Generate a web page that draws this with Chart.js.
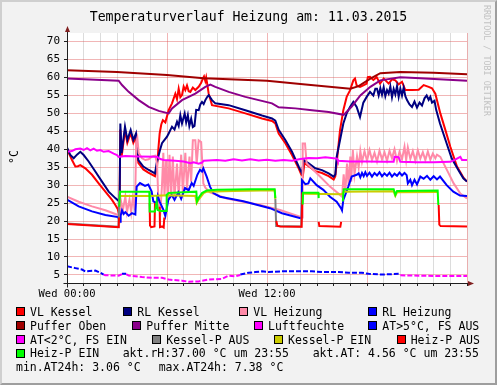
<!DOCTYPE html>
<html>
<head>
<meta charset="utf-8">
<script src="https://cdn.jsdelivr.net/npm/chart.js@4.4.1/dist/chart.umd.min.js"></script>
<style>
body { margin: 0; background: #fff; }
#wrap { position: relative; width: 497px; height: 385px; background: #f2f2f2; font-family: "DejaVu Sans Mono", monospace; color: #000; overflow: hidden; }
#frame { position: absolute; left: 0; top: 0; width: 497px; height: 385px; box-sizing: border-box; border: 2px solid; border-color: #cfcfcf #9e9e9e #9e9e9e #cfcfcf; pointer-events: none; }
canvas { position: absolute; left: 0; top: 0; }
#title { position: absolute; left: 0; top: 8px; width: 497px; text-align: center; font-size: 13.2px; line-height: 17px; white-space: pre; }
#unit { position: absolute; left: 4px; top: 150px; width: 20px; height: 14px; line-height: 14px; text-align: center; font-size: 11.5px; transform: rotate(-90deg); }
#wm { position: absolute; left: 482px; top: 5px; writing-mode: vertical-rl; font-size: 8.4px; color: #c2c2c2; white-space: pre; }
.t { position: absolute; white-space: pre; font-size: 11.5px; line-height: 14px; height: 14px; }
.sw { position: absolute; width: 9px; height: 9px; box-sizing: border-box; border: 1px solid #000; }
</style>
</head>
<body>
<div id="wrap">
  <canvas id="chart" width="497" height="385"></canvas>
  <div id="title">Temperaturverlauf Heizung am: 11.03.2015</div>
  <div id="unit">°C</div>
  <div id="wm">RRDTOOL / TOBI OETIKER</div>
  <div id="legend"></div>
  <div id="frame"></div>
</div>
<script>
// values as [hour, °C], null = no line
const vlKessel = [
  [0,40],[0.15,38.5],[0.3,37],[0.5,35.2],[0.65,35.3],[0.8,35.6],[1.1,34.7],[1.5,32.9],[1.9,30.5],[2.3,28.2],[2.7,25.9],[2.9,24.5],[3.05,23.3],[3.14,21.5],
  [3.2,45.5],[3.28,38],[3.48,45.3],[3.62,41.8],[3.82,44.5],[3.98,41.8],[4.14,43.5],[4.28,36.2],[4.58,34.4],[4.88,33.5],[5.28,32.5],[5.4,35],[5.48,40],[5.56,44.4],[5.66,47],[5.75,48.1],
  [5.9,47.5],[6.1,50.9],[6.3,52.8],[6.5,55.5],[6.6,54],[6.7,56.9],[6.8,54.5],[6.9,55.1],[7.0,57.5],[7.1,56.5],[7.2,57.8],[7.3,56.2],[7.4,56],[7.55,57.2],[7.7,56.5],[7.9,57.4],
  [8.05,58.5],[8.15,59.7],[8.22,60.3],[8.3,59],[8.35,60],[8.42,58],[8.5,55.5],[8.7,52.3],[9.7,51.4],[10.7,50],[11.7,48.6],[12.3,47.9],[12.5,47.2],[12.7,44.4],[13.1,41.7],
  [13.5,38.4],[13.9,34.7],[14.06,32.9],[14.15,32.5],[14.25,36.2],[14.5,35.3],[14.9,33.9],[15.3,33.4],[15.7,32.5],[16.0,31.6],[16.1,32.5],[16.18,36.1],[16.38,45.3],[16.58,50.9],
  [16.78,54.6],[16.98,56.4],[17.18,59.2],[17.28,59.7],[17.38,57.8],[17.58,57.4],[17.78,57.8],[17.98,58.3],[18.05,60.1],[18.18,60.2],[18.38,59.3],[18.58,60.1],[18.78,58.3],
  [19.0,59.7],[19.3,58.3],[19.5,59.5],[19.7,59.2],[19.9,58.1],[20.1,58.8],[20.3,56.5],[20.7,56.5],[21.1,56.6],[21.4,57.9],[21.7,57.4],[21.9,57],[22.1,55.5],[22.4,50],
  [22.7,45.4],[23.0,40.7],[23.4,35.2],[23.8,32],[24,31]
];
const rlKessel = [
  [0,40.5],[0.2,38.4],[0.4,37.5],[0.6,38.5],[0.8,39.3],[1.0,38.4],[1.3,36.6],[1.7,33.8],[2.1,31],[2.5,28.2],[2.9,26.4],[3.1,25.6],[3.16,25.2],
  [3.2,47.2],[3.28,38.9],[3.48,46.3],[3.62,42.6],[3.82,45.4],[3.98,42.6],[4.14,44.4],[4.28,37],[4.58,35.2],[4.88,34.3],[5.28,33.3],[5.38,36.1],[5.58,39.8],[5.7,41.7],[6.0,43.5],
  [6.1,44.4],[6.3,46.3],[6.45,45.5],[6.6,47.7],[6.7,46.5],[6.8,49.5],[6.9,47.2],[7.06,50],[7.15,47.5],[7.25,49.5],[7.34,46.5],[7.45,48.5],[7.55,46.2],[7.65,46.5],[7.75,51],
  [7.9,50.9],[8.0,52.5],[8.1,53.2],[8.2,52.6],[8.3,53.7],[8.4,54.5],[8.5,55.1],[8.7,53.7],[8.9,52.8],[9.7,52.3],[10.7,50.9],[11.7,49.4],[12.3,48.6],[12.5,48],[12.7,45.4],
  [13.1,42.6],[13.5,39.3],[13.9,35.2],[14.1,33.3],[14.2,37],[14.5,36.1],[14.9,34.7],[15.3,34.2],[15.7,33.3],[16.0,32.4],[16.1,33],[16.18,37.9],[16.38,42.5],[16.58,47.2],
  [16.78,50],[16.98,51.8],[17.18,53.2],[17.38,51.8],[17.58,49],[17.78,53],[17.98,54.6],[18.18,56],[18.38,55],[18.5,56.9],[18.6,56.9],[18.7,55],[18.8,57],[18.9,55.2],
  [19.0,57.3],[19.1,54.8],[19.2,56.5],[19.3,55.5],[19.4,57.5],[19.5,54.5],[19.6,56.8],[19.7,55.3],[19.8,57.6],[19.9,54.6],[20.0,56.9],[20.1,55],[20.2,57.2],[20.3,54.8],
  [20.4,53.7],[20.55,52.5],[20.7,51.8],[20.85,53.3],[21.0,51.6],[21.15,53],[21.3,52.2],[21.45,54.2],[21.58,55],[21.7,53.8],[21.8,54.6],[21.9,53],[22.05,53.5],[22.15,51],
  [22.38,47.2],[22.78,41.6],[23.08,37.5],[23.48,34.2],[23.78,31.9],[24,31]
];
const vlHeizung = [
  [0,26.8],[0.7,25.4],[1.5,24.1],[2.3,23],[3.06,21.7],[3.15,21.5],[3.2,26.5],[3.35,23],[3.5,26.8],[3.6,22.5],[3.75,26],[3.85,22.5],[3.95,26.5],[4.08,23],
  [4.15,42],[4.22,43.2],[4.3,39],[4.5,37.5],[4.7,37],[4.9,37.2],[5.1,38],[5.3,38.2],[5.4,36],[5.5,24],[5.6,22.5],[5.7,30],[5.78,39],[5.85,27],[5.95,37],[6.05,25.5],
  [6.15,38.5],[6.25,27],[6.35,38],[6.45,26.5],[6.6,36],[6.7,27],[6.85,38.5],[6.95,28],[7.1,39],[7.2,29],[7.35,38],[7.45,31],[7.55,42.5],[7.7,42.5],[7.78,36],[7.9,42.5],
  [8.05,42],[8.18,30.5],[8.3,29.3],[8.58,28],[9.58,26.3],[11.58,24.5],[12.78,23.1],[13.98,21.2],[14.1,21],[14.14,41.6],[14.28,41.6],[14.38,36.1],[15.18,32.4],[15.78,29.6],
  [16.38,27.3],[16.5,26.8],[16.6,33],[16.7,28],[16.8,36],[16.9,30],[17.0,38],[17.05,31],[17.15,39.8],[17.25,33],[17.4,38],[17.5,35],[17.6,39.5],[17.7,36.5],[17.85,39.5],
  [18.0,36.8],[18.15,39.8],[18.3,37],[18.45,39],[18.6,36.6],[18.75,39.6],[18.9,37.2],[19.05,39.2],[19.2,36.8],[19.35,39.6],[19.5,37.5],[19.65,40],[19.8,36.7],[19.95,39.3],
  [20.1,37.2],[20.25,40.7],[20.35,37],[20.45,40.5],[20.6,37.3],[20.75,39.5],[20.9,36.8],[21.05,39.7],[21.2,37.4],[21.35,39.2],[21.5,37],[21.65,39.4],[21.8,37.1],[21.95,38.8],
  [22.1,37.5],[22.2,38.5],[22.4,37.9],[22.8,34.2],[23.2,30.5],[23.6,27.7],[24,26.3]
];
const rlHeizung = [
  [0,26],[0.7,24.1],[1.5,22.7],[2.3,21.7],[3.06,21.1],[3.12,20.6],[3.18,19.8],[3.22,21.5],[3.3,23],[3.4,22],[3.5,22.5],[3.7,21.5],[3.9,22.2],[4.1,21.8],[4.18,29.6],
  [4.38,30.6],[4.68,29.8],[4.88,30.2],[5.08,28.2],[5.18,25.5],[5.38,25],[5.45,27],[5.55,25.5],[5.78,23.2],[5.9,21.4],[6.08,25.9],[6.28,27.3],[6.45,25.9],[6.68,28],[6.85,26.2],
  [7.08,29.2],[7.3,28.6],[7.48,30.6],[7.6,29.8],[7.82,32.9],[7.98,34.3],[8.1,33.8],[8.18,34.7],[8.38,32.4],[8.58,29.6],[8.78,27.8],[9.18,26.8],[10.58,25.5],[12.18,23.6],
  [12.9,22.2],[14.0,20.8],[14.08,21],[14.1,31.4],[14.3,30.3],[14.48,30.5],[14.6,31.9],[14.98,30],[15.38,28.7],[15.78,26.8],[16.18,25.4],[16.44,23.6],[16.5,23],[16.58,25.9],
  [16.88,29.6],[17.08,32.4],[17.38,32.9],[17.5,33.3],[17.6,32.2],[17.7,33.4],[17.8,32.5],[17.9,33.6],[18.0,32.6],[18.15,33.5],[18.3,32.4],[18.45,33.4],[18.6,32.7],[18.75,33.6],
  [18.9,32.5],[19.05,33.3],[19.2,32.6],[19.35,33.5],[19.5,32.4],[19.65,33.2],[19.8,32.6],[19.95,33.5],[20.1,32.7],[20.25,33.4],[20.38,32.8],[20.45,30.5],[20.6,31.5],[20.7,30],
  [20.85,31.5],[21.0,30.2],[21.2,32.4],[21.4,31.8],[21.6,32.6],[21.8,31.5],[22.0,32.5],[22.2,31.6],[22.38,32.4],[22.78,30],[23.18,28.2],[23.58,27.1],[24,27]
];
const pufferOben = [
  [0,62],[3,61.5],[6,60.7],[8.2,59.8],[12,59.1],[14,58.2],[17,56.9],[17.5,57.6],[18.2,59.7],[18.8,61.2],[20,61.5],[22,61.3],[24,60.9]
];
const pufferMitte = [
  [0,59.7],[3.1,59.1],[3.3,57.9],[3.7,56],[4.3,53.7],[4.9,51.8],[5.5,50.7],[6.1,50],[6.3,51.4],[6.9,53.7],[7.7,55.5],[8.3,57.4],[8.6,58],[8.9,57.4],[9.7,56],[10.7,54.6],
  [12.3,52.8],[12.7,51.7],[13.7,51.4],[14.7,50.9],[15.7,50.4],[16.6,49.6],[17.1,52],[17.6,55],[18.2,57.4],[18.8,59.2],[20.0,60.1],[21.2,59.8],[24,59.1]
];
const luftfeuchte = [
  [0,39.3],[0.3,39.5],[0.5,40],[0.8,40.2],[1.0,39.8],[1.2,40.3],[1.4,39.7],[1.6,40.2],[1.8,39.6],[2.0,39.8],[2.2,39.3],[2.5,39.5],[2.8,38.8],[3.0,38.4],[3.1,37.9],
  [3.5,38.1],[4.2,38],[5.4,37.9],[5.6,37.3],[5.8,37],[6.5,36.8],[7.0,36.6],[7.4,36.1],[7.6,36.4],[7.9,36],[8.1,36.3],[8.2,36.8],[9,37],[9.5,36.8],[10,37.2],[10.5,36.9],
  [11,37.2],[11.5,36.9],[12,37.1],[12.5,36.8],[13,37],[13.5,36.8],[14,37.3],[14.5,37.6],[15,37.5],[15.5,37.8],[16,37.5],[16.2,37.4],[16.25,36.8],[17,36.6],[18,36.6],
  [19,36.5],[19.6,36.5],[19.65,37.9],[19.9,37.8],[20.0,36.5],[21,36.4],[22,36.4],[23,36.5],[23.2,36.9],[23.6,37.9],[23.7,37],[24,37]
];
const atOver5 = [
  [0,7.4],[0.5,6.9],[0.9,6.5],[1.1,6.0],[1.7,6.2],[2.0,5.6],[2.2,5.1],[2.3,null],[3.3,5.3],[3.55,5.3],[3.6,null],
  [10.4,5.1],[10.9,5.6],[11.3,5.8],[11.7,6.0],[12.1,5.8],[12.9,6.0],[13.7,6.0],[14.7,6.0],[15.3,5.8],[16.3,5.8],[16.9,5.6],[17.7,5.6],[18.1,5.3],[18.9,5.1],[19.9,5.3],[20.0,null]
];
const atUnder2 = [
  [2.2,5.1],[2.3,4.9],[3.1,4.8],[3.3,5.2],[3.35,null],[3.55,5.2],[3.7,4.8],[4.5,4.4],[5.1,4.2],[5.7,4.2],[6.1,3.7],[6.9,3.4],[7.3,3.1],[7.9,3.2],[8.5,3.7],[9.3,3.9],
  [9.7,4.8],[10.1,4.6],[10.4,5.0],[10.45,null],[20.0,4.9],[21.1,4.8],[22.3,4.7],[22.9,4.7],[23.9,4.7],[24,4.7]
];
const kesselPAus = [
  [0,19.3],[3.1,18.4],[3.13,27.5],[3.14,null],[12.5,26.2],[12.55,18.6],[14.05,18.5],[14.12,27.6],[14.13,null]
];
const kesselPEin = [
  [3.18,27.0],[5,27],[6,27.2],[7.7,27],[7.78,25],[7.9,26],[8.2,27.8],[8.4,28.2],[10,28.4],[12.46,28.6],[12.5,26.2],[12.52,null],
  [14.16,27.6],[16.5,27.5],[16.6,28.2],[19.6,28.3],[19.7,27],[19.8,28],[22.2,28.1],[22.22,null]
];
const heizPAus = [
  [0,19.2],[3.1,18.3],[3.12,21],[3.13,null],[4.96,25],[4.98,18.8],[5.05,18.3],[5.25,18.5],[5.28,25],[5.3,null],[5.56,24],[5.58,18.3],[5.7,18.5],[5.8,18.2],[5.84,21],[5.86,null],
  [12.56,20],[12.62,18.7],[12.8,18.5],[14.05,18.4],[14.08,19],[14.12,28],[14.14,null],[15.1,19.8],[15.14,18.6],[16.4,18.4],[16.45,19.8],[16.47,null],
  [22.3,24.5],[22.34,19],[22.42,18.6],[24,18.5]
];
const heizPEin = [
  [3.14,24],[3.18,28.2],[4.94,28.2],[4.96,22.7],[5.28,22.7],[5.38,25.5],[5.45,23.1],[5.6,22.8],[5.95,22.8],[5.98,27.3],[6.1,27.8],[7.0,28],[7.76,28.2],[7.8,25.5],[7.9,26.5],
  [8.1,27.8],[8.38,28.5],[9,28.7],[10,28.8],[11,28.9],[12.46,28.9],[12.5,26.4],[12.52,null],[14.14,24.6],[14.16,27.9],[15.08,27.9],[15.1,26.4],[15.12,null],
  [16.55,25.5],[16.6,28.9],[19.6,28.9],[19.7,27.3],[19.8,28.4],[22.24,28.5],[22.28,24.5]
];

const seriesNames = ["VL Kessel", "RL Kessel", "VL Heizung", "RL Heizung", "Puffer Oben", "Puffer Mitte", "Luftfeuchte",
  "AT>5°C, FS AUS", "AT<2°C, FS EIN", "Kessel-P AUS", "Kessel-P EIN", "Heiz-P AUS", "Heiz-P EIN"];
const seriesData = [vlKessel, rlKessel, vlHeizung, rlHeizung, pufferOben, pufferMitte, luftfeuchte,
  atOver5, atUnder2, kesselPAus, kesselPEin, heizPAus, heizPEin];
const seriesColors = ["#ff0000", "#000080", "#ff8aa8", "#0000ff", "#a00000", "#8a008a", "#ff00ff",
  "#0000ff", "#ff00ff", "#808080", "#cccc00", "#ff0000", "#00ff00"];

const yTicks = [5, 10, 15, 20, 25, 30, 35, 40, 45, 50, 55, 60, 65, 70];
const xHours = [0,1,2,3,4,5,6,7,8,9,10,11,12,13,14,15,16,17,18,19,20,21,22,23,24];
const xLabelHours = [0, 12];
const xLabels = ["Wed 00:00", "Wed 12:00"];
const notes = ["akt.rH:37.00 °C um 23:55", "akt.AT: 4.56 °C um 23:55", "min.AT24h: 3.06 °C", "max.AT24h: 7.38 °C"];

const MONO = "'DejaVu Sans Mono', monospace";
const MAJOR = "rgba(222,80,80,0.42)";
const MINOR = "rgba(140,140,140,0.3)";

const datasets = seriesData.map((d, i) => ({
  label: seriesNames[i],
  data: d.map((p) => ({ x: p[0], y: p[1] })),
  borderColor: seriesColors[i],
  borderWidth: 2,
  borderDash: i === 7 || i === 8 ? [5, 2] : [],
  pointRadius: 0,
  tension: 0,
  fill: false,
  spanGaps: false,
  order: -i,
}));

const frame = {
  id: "frame",
  beforeDraw(chart) {
    const a = chart.chartArea;
    const ctx = chart.ctx;
    ctx.save();
    ctx.fillStyle = "#ffffff";
    ctx.fillRect(a.left, a.top, a.right - a.left, a.bottom - a.top);
    ctx.restore();
  },
  afterDatasetsDraw(chart) {
    const a = chart.chartArea;
    const ctx = chart.ctx;
    const x0 = Math.round(a.left) + 0.5;
    const y0 = Math.round(a.bottom) + 0.5;
    ctx.save();
    ctx.strokeStyle = "#1f1f1f";
    ctx.lineWidth = 1;
    ctx.beginPath();
    ctx.moveTo(x0, y0 + 4);
    ctx.lineTo(x0, a.top - 3);
    ctx.moveTo(x0 - 4, y0);
    ctx.lineTo(a.right + 2, y0);
    ctx.stroke();
    ctx.fillStyle = "#801f1f";
    ctx.beginPath();
    ctx.moveTo(x0, a.top - 7);
    ctx.lineTo(x0 - 2.5, a.top - 1);
    ctx.lineTo(x0 + 2.5, a.top - 1);
    ctx.closePath();
    ctx.fill();
    ctx.beginPath();
    ctx.moveTo(a.right + 7, y0);
    ctx.lineTo(a.right + 1, y0 - 2.5);
    ctx.lineTo(a.right + 1, y0 + 2.5);
    ctx.closePath();
    ctx.fill();
    ctx.restore();
  },
};

new Chart(document.getElementById("chart"), {
  type: "line",
  data: { datasets: datasets },
  options: {
    responsive: false,
    animation: false,
    devicePixelRatio: 1,
    layout: { padding: { top: 33, right: 30, left: 0, bottom: 0 } },
    plugins: { legend: { display: false }, tooltip: { enabled: false } },
    scales: {
      x: {
        type: "linear",
        min: 0,
        max: 24,
        afterBuildTicks: (s) => { s.ticks = xHours.map((v) => ({ value: v })); },
        afterFit: (s) => { s.height = 102; },
        grid: {
          color: (c) => (c.tick && c.tick.value % 6 === 0 ? MAJOR : MINOR),
          tickColor: "#1f1f1f",
          tickLength: 3,
        },
        border: { display: false },
        ticks: {
          autoSkip: false,
          maxRotation: 0,
          padding: 2,
          color: "#000",
          font: { family: MONO, size: 10.5 },
          callback: (v) => {
            const k = xLabelHours.indexOf(v);
            return k >= 0 ? xLabels[k] : "";
          },
        },
      },
      y: {
        type: "linear",
        min: 2.75,
        max: 72.4,
        afterBuildTicks: (s) => { s.ticks = yTicks.map((v) => ({ value: v })); },
        afterFit: (s) => { s.width = 67; },
        grid: { color: MAJOR, tickColor: "#1f1f1f", tickLength: 3 },
        border: { display: false },
        ticks: { padding: 4, color: "#000", font: { family: MONO, size: 11 } },
      },
    },
  },
  plugins: [frame],
});

// legend: [series, swatch x, row]
const legendPos = [
  [0, 16, 0], [1, 123.3, 0], [2, 239.3, 0], [3, 368.3, 0],
  [4, 16, 1], [5, 132.3, 1], [6, 254, 1], [7, 368.3, 1],
  [8, 16, 2], [9, 152.3, 2], [10, 274, 2], [11, 396.7, 2],
  [12, 16, 3],
];
const notePos = [[122.7, 3], [312.7, 3], [16, 4], [158.7, 4]];
const rowY = (r) => 311.7 + 13.9 * r;
const legend = document.getElementById("legend");

legendPos.forEach(([i, x, r]) => {
  const sw = document.createElement("div");
  sw.className = "sw";
  sw.style.left = x + "px";
  sw.style.top = rowY(r) - 4.5 + "px";
  sw.style.background = seriesColors[i];
  legend.appendChild(sw);
  const t = document.createElement("div");
  t.className = "t";
  t.style.left = x + 14 + "px";
  t.style.top = rowY(r) - 7 + "px";
  t.textContent = seriesNames[i];
  legend.appendChild(t);
});
notePos.forEach(([x, r], i) => {
  const t = document.createElement("div");
  t.className = "t";
  t.style.left = x + "px";
  t.style.top = rowY(r) - 7 + "px";
  t.textContent = notes[i];
  legend.appendChild(t);
});
</script>
</body>
</html>
